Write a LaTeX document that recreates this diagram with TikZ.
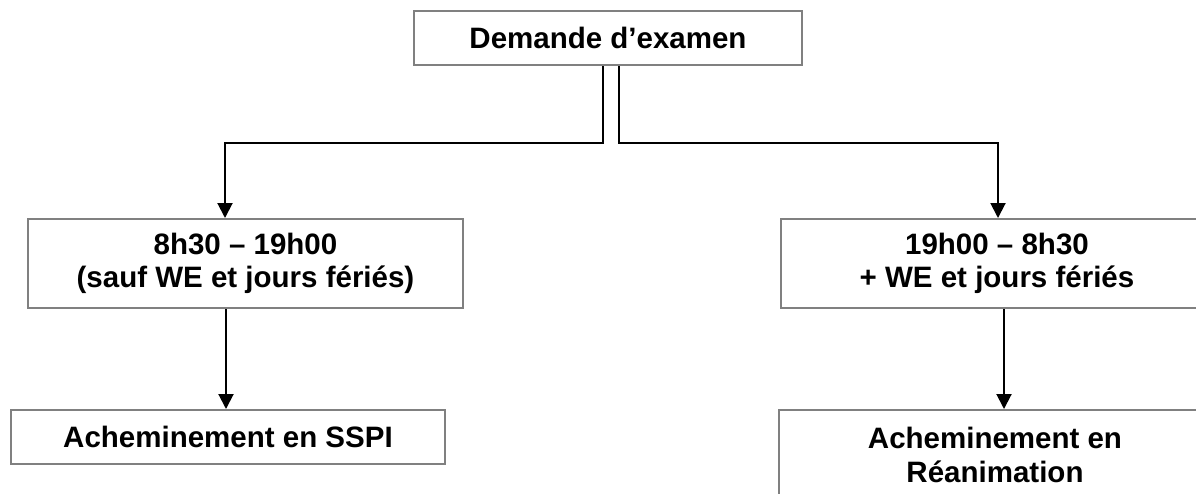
\documentclass[tikz,border=0pt]{standalone}
\usepackage{fontspec}
\setmainfont{Liberation Sans}
\usetikzlibrary{arrows.meta}
\begin{document}
\begin{tikzpicture}[x=1pt,y=-1pt,
  box/.style={draw=black!50, line width=2pt, fill=white, inner sep=0pt, align=center,
    font=\fontsize{29.5}{33.5}\selectfont\bfseries},
  conn/.style={draw=black, line width=2pt},
  arr/.style={conn, -{Triangle[width=15pt,length=15pt]}}]
\useasboundingbox (0,0) rectangle (1196,493);
\clip (0,0) rectangle (1196,493);
\node[box, minimum width=388pt, minimum height=54pt] (top) at (608,38) {Demande d’examen};
\node[box, minimum width=435pt, minimum height=89pt] (ml) at (245.5,263.5) {8h30 – 19h00\\(sauf WE et jours fériés)};
\node[box, minimum width=432pt, minimum height=89pt] (mr) at (997,263.5) {19h00 – 8h30\\+ WE et jours fériés};
\node[box, minimum width=434pt, minimum height=54pt] (bl) at (228,437) {Acheminement en SSPI};
\node[box, minimum width=432pt, minimum height=90pt] (br) at (995,455) {Acheminement en\\Réanimation};
\coordinate (lturn) at (603,143);
\coordinate (rturn) at (619,143);
\coordinate (lx) at (225,0);
\coordinate (rx) at (998,0);
\coordinate (blx) at (226,0);
\coordinate (brx) at (1004,0);
\draw[arr] (top.south -| lturn) -- (lturn) -| (ml.north -| lx);
\draw[arr] (top.south -| rturn) -- (rturn) -| (mr.north -| rx);
\draw[arr] (ml.south -| blx) -- (bl.north -| blx);
\draw[arr] (mr.south -| brx) -- (br.north -| brx);
\end{tikzpicture}
\end{document}
